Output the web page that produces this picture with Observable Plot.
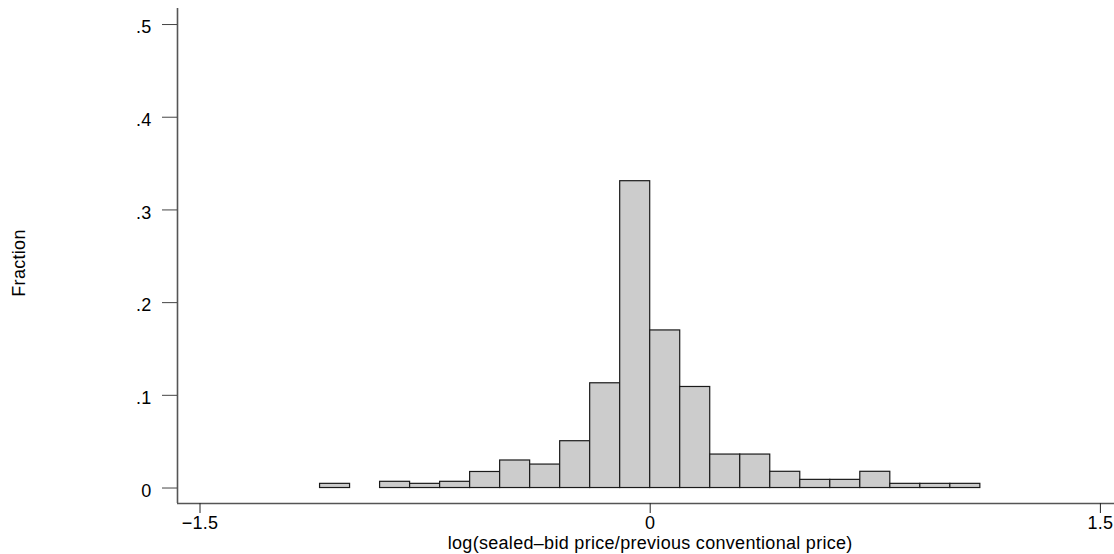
<!DOCTYPE html>
<html>
<head>
<meta charset="utf-8">
<script src="https://cdn.jsdelivr.net/npm/d3@7"></script>
<script src="https://cdn.jsdelivr.net/npm/@observablehq/plot@0.6"></script>
<style>
  html, body { margin: 0; padding: 0; background: #fff; }
  svg { display: block; }
  svg text { letter-spacing: 0.3px; }
</style>
</head>
<body>
<div id="chart"></div>
<script>
// Histogram bins (left edges), width 0.1
const binStarts = [-1.1, -0.9, -0.8, -0.7, -0.6, -0.5, -0.4, -0.3, -0.2, -0.1, 0.0, 0.1, 0.2, 0.3, 0.4, 0.5, 0.6, 0.7, 0.8, 0.9, 1.0];
const fractions = [0.0045, 0.0067, 0.0045, 0.0067, 0.0173, 0.0297, 0.0253, 0.0505, 0.113, 0.331, 0.170, 0.109, 0.0361, 0.0361, 0.0175, 0.0088, 0.0088, 0.0175, 0.0045, 0.0045, 0.0045];
const binWidth = 0.1;
const xTicks = [-1.5, 0, 1.5];
const yTicks = [0, 0.1, 0.2, 0.3, 0.4, 0.5];
const xLabel = "log(sealed–bid price/previous conventional price)";
const yLabel = "Fraction";

const bars = binStarts.map((s, i) => ({x1: s, x2: +(s + binWidth).toFixed(2), y: fractions[i]}));

const fmtY = d => d === 0 ? "0" : String(d).replace(/^0\./, ".");
const fmtX = d => d < 0 ? "\u2212" + Math.abs(d) : String(d);

const xDomain = [-1.575, 1.547];
const yDomain = [-0.0167, 0.5173];
const FS = 18;

const chart = Plot.plot({
  width: 1114,
  height: 554,
  marginLeft: 177,
  marginRight: 0,
  marginTop: 8,
  marginBottom: 51,
  style: {fontFamily: "'Liberation Sans', Arial, sans-serif", fontSize: FS + "px", color: "#000", background: "#fff"},
  x: {type: "linear", domain: xDomain, axis: null},
  y: {type: "linear", domain: yDomain, axis: null},
  marks: [
    Plot.rectY(bars, {x1: "x1", x2: "x2", y1: 0, y2: "y", fill: "#cccccc", stroke: "#1a1a1a", strokeWidth: 1.2}),
    Plot.ruleY([yDomain[0]], {stroke: "#555", strokeWidth: 1.6}),
    Plot.ruleX([xDomain[0]], {stroke: "#555", strokeWidth: 1.6}),
    Plot.axisX({ticks: xTicks, tickFormat: fmtX, tickSize: 10, tickPadding: 3, anchor: "bottom", label: null, stroke: "#222", fontSize: FS}),
    Plot.axisY({ticks: yTicks, tickFormat: () => "", tickSize: 15, anchor: "left", label: null, stroke: "#444"}),
    Plot.axisY({ticks: yTicks, tickFormat: fmtY, tickSize: 0, tickPadding: 26, dy: 3, anchor: "left", label: null, fontSize: FS}),
    Plot.text([xLabel], {x: 0, frameAnchor: "bottom", dy: 45, text: d => d, textAnchor: "middle", lineAnchor: "bottom", fontSize: FS, fill: "#000"}),
    Plot.text([yLabel], {frameAnchor: "left", dx: -158, dy: 7, rotate: -90, text: d => d, textAnchor: "middle", lineAnchor: "middle", fontSize: FS, fill: "#000"})
  ]
});
document.getElementById("chart").appendChild(chart);
</script>
</body>
</html>
